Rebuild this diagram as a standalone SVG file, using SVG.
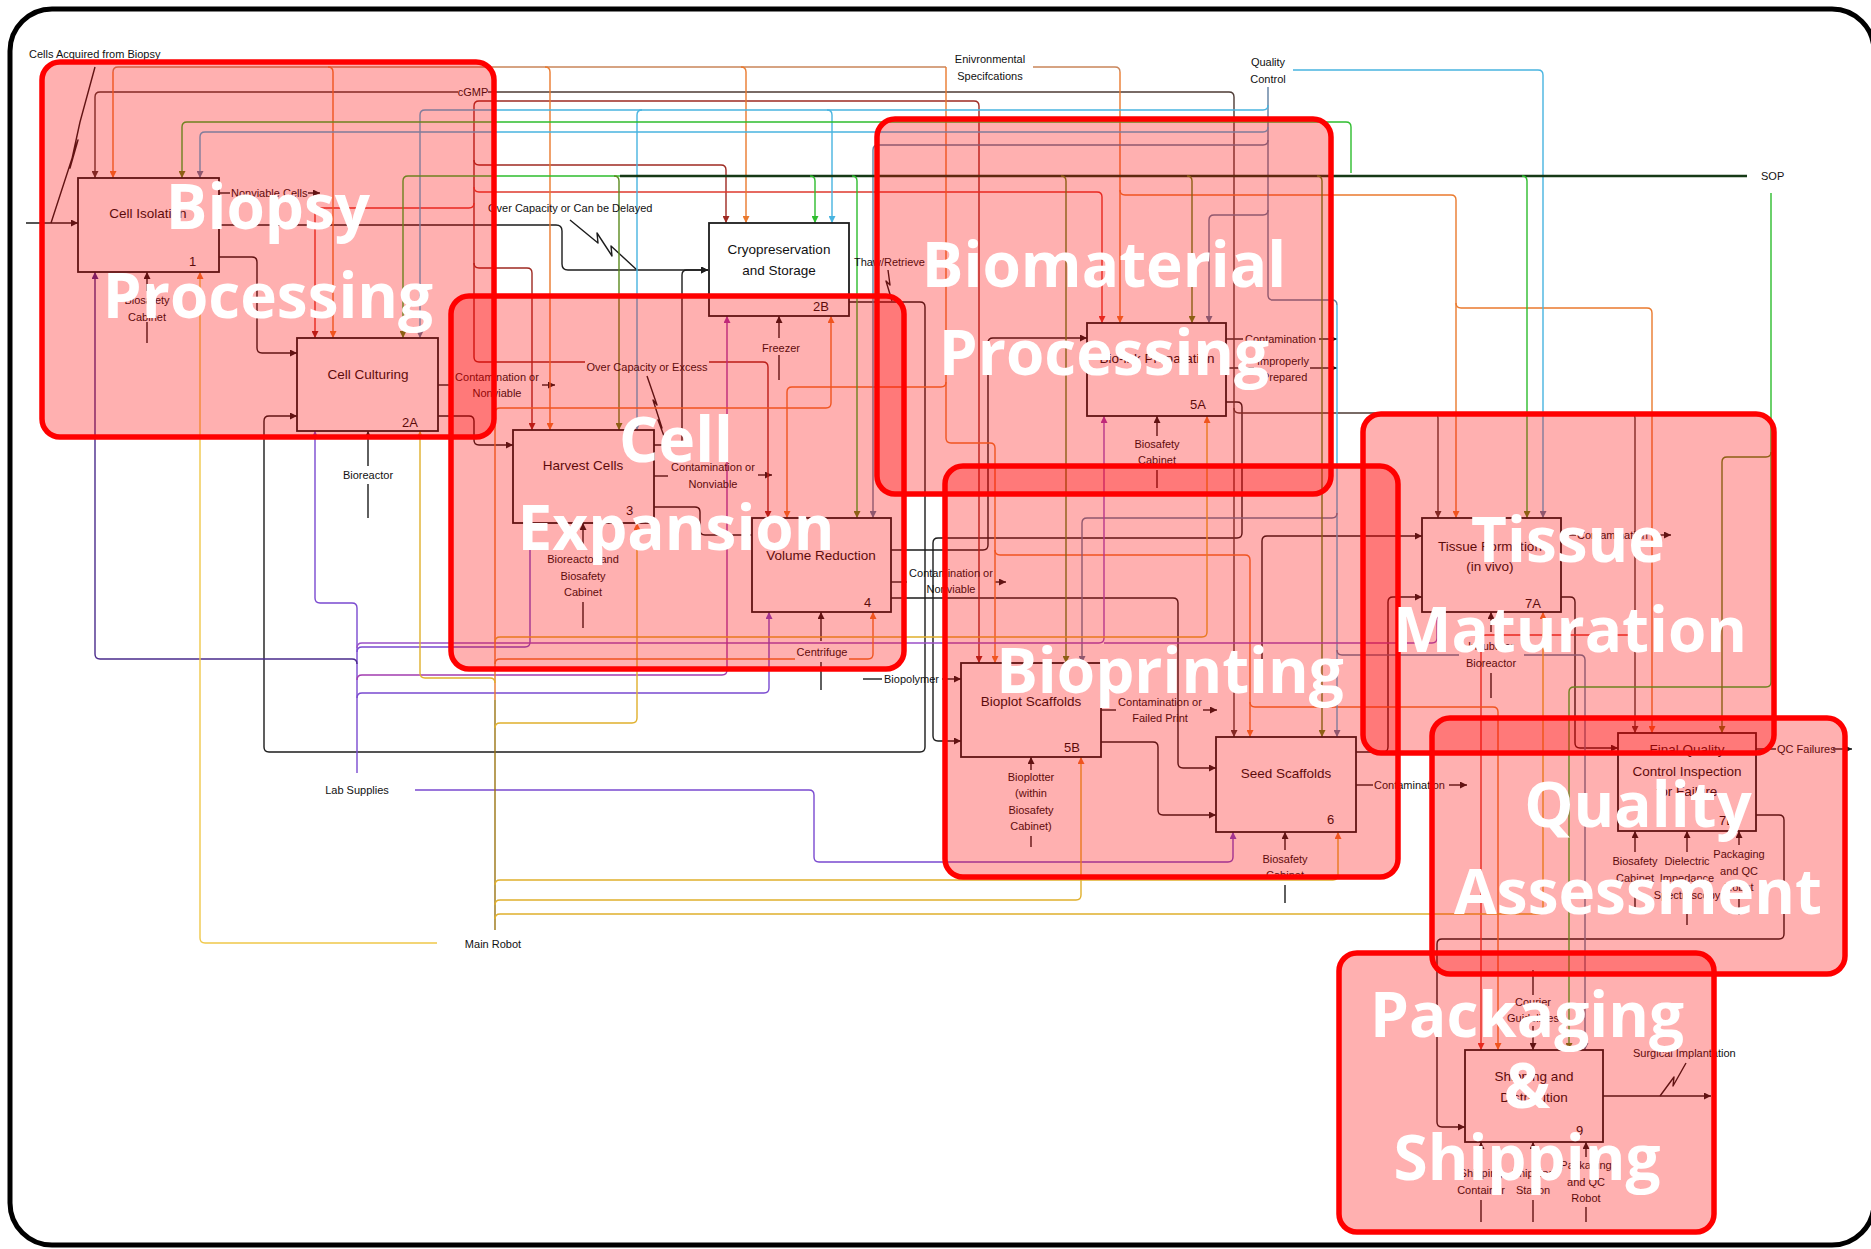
<svg xmlns="http://www.w3.org/2000/svg" width="1871" height="1249" viewBox="0 0 1871 1249">
  <defs>
    <style>
      .c{fill:none;stroke-width:1.4;stroke-linejoin:round}
      .k{stroke:#1c1c1c}.cg{stroke:#4d3b35}.dr{stroke:#9e2a22}.r{stroke:#de3a2e}
      .eb{stroke:#c9855a}.o{stroke:#ea7a2e}.lb{stroke:#48b4e0}.sl{stroke:#5f7fa0}
      .gr{stroke:#2ebd2e}.ol{stroke:#5b8a1e}.sop{stroke:#163a16;stroke-width:2.6}
      .pu{stroke:#7a4ad0}.in{stroke:#4a2b8c}.mg{stroke:#a23cb0}.vi{stroke:#9a50c8}
      .gd{stroke:#e0b02c}.dg{stroke:#9a7412}.yl{stroke:#f0c84a}
      .box{fill:#ffffff;stroke:#1c1c1c;stroke-width:1.8}
      .bt{font-family:"Liberation Sans",Arial,sans-serif;font-size:13.5px;fill:#111;text-anchor:middle}
      .nm{font-family:"Liberation Sans",Arial,sans-serif;font-size:13px;fill:#111}
      .t{font-family:"Liberation Sans",Arial,sans-serif;font-size:11px;fill:#111}
      .m{text-anchor:middle}
      .zone{fill:#ff0000;fill-opacity:0.31;stroke:#ff0000;stroke-width:5.5}
      .zt{font-family:"Open Sans","Noto Sans",sans-serif;font-weight:700;font-size:62px;fill:#ffffff;text-anchor:middle}
    </style>
    <marker id="m-k" viewBox="0 0 8 8" refX="8" refY="4" markerWidth="8" markerHeight="7" markerUnits="userSpaceOnUse" orient="auto"><path d="M0,0L8,4L0,8z" fill="#1c1c1c"/></marker>
    <marker id="m-cg" viewBox="0 0 8 8" refX="8" refY="4" markerWidth="8" markerHeight="7" markerUnits="userSpaceOnUse" orient="auto"><path d="M0,0L8,4L0,8z" fill="#4d3b35"/></marker>
    <marker id="m-dr" viewBox="0 0 8 8" refX="8" refY="4" markerWidth="8" markerHeight="7" markerUnits="userSpaceOnUse" orient="auto"><path d="M0,0L8,4L0,8z" fill="#9e2a22"/></marker>
    <marker id="m-r" viewBox="0 0 8 8" refX="8" refY="4" markerWidth="8" markerHeight="7" markerUnits="userSpaceOnUse" orient="auto"><path d="M0,0L8,4L0,8z" fill="#de3a2e"/></marker>
    <marker id="m-o" viewBox="0 0 8 8" refX="8" refY="4" markerWidth="8" markerHeight="7" markerUnits="userSpaceOnUse" orient="auto"><path d="M0,0L8,4L0,8z" fill="#ea7a2e"/></marker>
    <marker id="m-lb" viewBox="0 0 8 8" refX="8" refY="4" markerWidth="8" markerHeight="7" markerUnits="userSpaceOnUse" orient="auto"><path d="M0,0L8,4L0,8z" fill="#48b4e0"/></marker>
    <marker id="m-sl" viewBox="0 0 8 8" refX="8" refY="4" markerWidth="8" markerHeight="7" markerUnits="userSpaceOnUse" orient="auto"><path d="M0,0L8,4L0,8z" fill="#5f7fa0"/></marker>
    <marker id="m-gr" viewBox="0 0 8 8" refX="8" refY="4" markerWidth="8" markerHeight="7" markerUnits="userSpaceOnUse" orient="auto"><path d="M0,0L8,4L0,8z" fill="#2ebd2e"/></marker>
    <marker id="m-ol" viewBox="0 0 8 8" refX="8" refY="4" markerWidth="8" markerHeight="7" markerUnits="userSpaceOnUse" orient="auto"><path d="M0,0L8,4L0,8z" fill="#5b8a1e"/></marker>
    <marker id="m-pu" viewBox="0 0 8 8" refX="8" refY="4" markerWidth="8" markerHeight="7" markerUnits="userSpaceOnUse" orient="auto"><path d="M0,0L8,4L0,8z" fill="#7a4ad0"/></marker>
    <marker id="m-in" viewBox="0 0 8 8" refX="8" refY="4" markerWidth="8" markerHeight="7" markerUnits="userSpaceOnUse" orient="auto"><path d="M0,0L8,4L0,8z" fill="#4a2b8c"/></marker>
    <marker id="m-mg" viewBox="0 0 8 8" refX="8" refY="4" markerWidth="8" markerHeight="7" markerUnits="userSpaceOnUse" orient="auto"><path d="M0,0L8,4L0,8z" fill="#a23cb0"/></marker>
    <marker id="m-gd" viewBox="0 0 8 8" refX="8" refY="4" markerWidth="8" markerHeight="7" markerUnits="userSpaceOnUse" orient="auto"><path d="M0,0L8,4L0,8z" fill="#d9a22a"/></marker>
  </defs>

  <rect x="0" y="0" width="1871" height="1249" fill="#ffffff"/>
  <rect id="frame" x="10" y="9" width="1864" height="1236" rx="42" fill="none" stroke="#000" stroke-width="5"/>

  <g id="connectors">
    <!-- process inputs and outputs -->
    <path class="c k" d="M26,223 H78" marker-end="url(#m-k)"/>
    <path class="c k" d="M95,67 L80,122 L70,168 L78,140 L51,223"/>
    <path class="c k" d="M219,225 H556 Q562,225 562,231 V264 Q562,270 568,270 H708" marker-end="url(#m-k)"/>
    <path class="c k" d="M570,220 L598,243 L597,233 L612,256 L611,246 L637,270"/>
    <path class="c k" d="M219,257 H252 Q257,257 257,262 V348 Q257,353 262,353 H297" marker-end="url(#m-k)"/>
    <path class="c k" d="M219,193 H230"/><path class="c k" d="M308,193 H320" marker-end="url(#m-k)"/>
    <path class="c k" d="M438,416 H469 Q474,416 474,421 V440 Q474,445 479,445 H513" marker-end="url(#m-k)"/>
    <path class="c k" d="M438,385 H452"/><path class="c k" d="M542,385 H555" marker-end="url(#m-k)"/>
    <path class="c k" d="M654,445 H677 Q682,445 682,440 V275 Q682,270 687,270 H708" marker-end="url(#m-k)"/>
    <path class="c k" d="M647,376 L657,405 L653,400 L662,428 L658,420 L667,444"/>
    <path class="c k" d="M654,507 H695 Q700,507 700,512 V530 Q700,535 705,535 H752" marker-end="url(#m-k)"/>
    <path class="c k" d="M654,476 H668"/><path class="c k" d="M758,475 H772" marker-end="url(#m-k)"/>
    <path class="c k" d="M849,302 H920 Q925,302 925,307 V747 Q925,752 920,752 H269 Q264,752 264,747 V421 Q264,416 269,416 H297" marker-end="url(#m-k)"/>
    <path class="c k" d="M888,270 L890,285 L886,281 L892,301"/>
    <path class="c k" d="M891,550 H983 Q988,550 988,545 V343 Q988,338 993,338 H1087" marker-end="url(#m-k)"/>
    <path class="c k" d="M891,598 H1173 Q1178,598 1178,603 V763 Q1178,768 1183,768 H1216" marker-end="url(#m-k)"/>
    <path class="c k" d="M891,582 H907"/><path class="c k" d="M995,582 H1006" marker-end="url(#m-k)"/>
    <path class="c k" d="M1226,402 H1237 Q1242,402 1242,407 V533 Q1242,538 1237,538 H938 Q933,538 933,543 V736 Q933,741 938,741 H961" marker-end="url(#m-k)"/>
    <path class="c k" d="M1226,339 H1243"/><path class="c k" d="M1319,339 H1337" marker-end="url(#m-k)"/>
    <path class="c k" d="M1226,368 H1254"/><path class="c k" d="M1310,368 H1337" marker-end="url(#m-k)"/>
    <path class="c k" d="M863,679 H882"/><path class="c k" d="M942,679 H961" marker-end="url(#m-k)"/>
    <path class="c k" d="M1101,742 H1153 Q1158,742 1158,747 V810 Q1158,815 1163,815 H1216" marker-end="url(#m-k)"/>
    <path class="c k" d="M1101,710 H1116"/><path class="c k" d="M1203,710 H1217" marker-end="url(#m-k)"/>
    <path class="c k" d="M1356,752 H1383 Q1388,752 1388,747 V602 Q1388,597 1393,597 H1422" marker-end="url(#m-k)"/>
    <path class="c k" d="M1356,785 H1373"/><path class="c k" d="M1449,785 H1467" marker-end="url(#m-k)"/>
    <path class="c k" d="M1262,690 V541 Q1262,536 1267,536 H1422" marker-end="url(#m-k)"/>
    <path class="c k" d="M1561,535 H1576"/><path class="c k" d="M1651,535 H1671" marker-end="url(#m-k)"/>
    <path class="c k" d="M1561,597 H1570 Q1575,597 1575,602 V743 Q1575,748 1580,748 H1618" marker-end="url(#m-k)"/>
    <path class="c k" d="M1756,749 H1776"/><path class="c k" d="M1833,749 H1852" marker-end="url(#m-k)"/>
    <path class="c k" d="M1756,815 H1779 Q1784,815 1784,820 V934 Q1784,939 1779,939 H1442 Q1437,939 1437,944 V1122 Q1437,1127 1442,1127 H1465" marker-end="url(#m-k)"/>
    <path class="c k" d="M1603,1096 H1711" marker-end="url(#m-k)"/>
    <path class="c k" d="M1686,1063 L1673,1086 L1674,1077 L1660,1096"/>

    <!-- mechanisms -->
    <path class="c k" d="M147,343 V322"/><path class="c k" d="M147,291 V272" marker-end="url(#m-k)"/>
    <path class="c k" d="M368,518 V484"/><path class="c k" d="M368,466 V431" marker-end="url(#m-k)"/>
    <path class="c k" d="M779,380 V355"/><path class="c k" d="M779,338 V316" marker-end="url(#m-k)"/>
    <path class="c k" d="M583,628 V602"/><path class="c k" d="M583,548 V523" marker-end="url(#m-k)"/>
    <path class="c k" d="M821,690 V662"/><path class="c k" d="M821,641 V612" marker-end="url(#m-k)"/>
    <path class="c k" d="M1157,488 V470"/><path class="c k" d="M1157,436 V416" marker-end="url(#m-k)"/>
    <path class="c k" d="M1031,847 V836"/><path class="c k" d="M1031,770 V757" marker-end="url(#m-k)"/>
    <path class="c k" d="M1285,903 V885"/><path class="c k" d="M1285,850 V832" marker-end="url(#m-k)"/>
    <path class="c k" d="M1491,698 V673"/><path class="c k" d="M1491,632 V612" marker-end="url(#m-k)"/>
    <path class="c k" d="M1635,910 V888"/><path class="c k" d="M1635,852 V831" marker-end="url(#m-k)"/>
    <path class="c k" d="M1687,925 V905"/><path class="c k" d="M1687,852 V831" marker-end="url(#m-k)"/>
    <path class="c k" d="M1739,915 V897"/><path class="c k" d="M1739,845 V831" marker-end="url(#m-k)"/>
    <path class="c k" d="M1481,1222 V1200"/><path class="c k" d="M1481,1162 V1142" marker-end="url(#m-k)"/>
    <path class="c k" d="M1533,1222 V1200"/><path class="c k" d="M1533,1162 V1142" marker-end="url(#m-k)"/>
    <path class="c k" d="M1586,1222 V1207"/><path class="c k" d="M1586,1157 V1142" marker-end="url(#m-k)"/>
    <path class="c k" d="M1533,970 V995"/><path class="c k" d="M1533,1026 V1050" marker-end="url(#m-k)"/>

    <!-- cGMP -->
    <path class="c cg" d="M458,92 H100 Q95,92 95,97 V178" marker-end="url(#m-cg)"/>
    <path class="c cg" d="M488,92 H1229 Q1234,92 1234,97 V737" marker-end="url(#m-cg)"/>
    <path class="c cg" d="M1234,408 Q1234,413 1239,413 H1630 Q1635,413 1635,418 V733" marker-end="url(#m-cg)"/>
    <path class="c cg" d="M1433,413 Q1438,413 1438,418 V518" marker-end="url(#m-cg)"/>
    <path class="c r" d="M1635,635 H1486 Q1481,635 1481,640 V1050" marker-end="url(#m-r)"/>

    <!-- rework feedback -->
    <path class="c dr" d="M585,362 H479 Q474,362 474,357 V106 Q474,101 479,101 H974 Q979,101 979,106 V663" marker-end="url(#m-dr)"/>
    <path class="c dr" d="M709,362 H763 Q768,362 768,367 V518" marker-end="url(#m-dr)"/>
    <path class="c dr" d="M474,160 Q474,165 479,165 H721 Q726,165 726,170 V223" marker-end="url(#m-dr)"/>
    <path class="c r" d="M474,187 Q474,192 479,192 H1097 Q1102,192 1102,197 V323" marker-end="url(#m-r)"/>
    <path class="c r" d="M474,203 Q474,208 469,208 H320 Q315,208 315,213 V338" marker-end="url(#m-dr)"/>
    <path class="c dr" d="M474,263 Q474,268 479,268 H527 Q532,268 532,273 V430" marker-end="url(#m-dr)"/>

    <!-- environmental specifications -->
    <path class="c eb" d="M946,67 H118 Q113,67 113,72"/>
    <path class="c eb" d="M1033,67 H1115 Q1120,67 1120,72"/>
    <path class="c o" d="M113,72 V178" marker-end="url(#m-o)"/>
    <path class="c o" d="M328,67 Q333,67 333,72 V338" marker-end="url(#m-o)"/>
    <path class="c o" d="M545,67 Q550,67 550,72 V430" marker-end="url(#m-o)"/>
    <path class="c o" d="M741,67 Q746,67 746,72 V223" marker-end="url(#m-o)"/>
    <path class="c o" d="M1120,72 V323" marker-end="url(#m-o)"/>
    <path class="c o" d="M1120,190 Q1120,195 1125,195 H1451 Q1456,195 1456,200 V518" marker-end="url(#m-o)"/>
    <path class="c o" d="M1456,303 Q1456,308 1461,308 H1647 Q1652,308 1652,313 V733" marker-end="url(#m-o)"/>
    <path class="c o" d="M946,67 V438 Q946,443 951,443 H990 Q995,443 995,448 V663" marker-end="url(#m-o)"/>
    <path class="c o" d="M946,382 Q946,387 941,387 H792 Q787,387 787,392 V518" marker-end="url(#m-o)"/>
    <path class="c o" d="M995,550 Q995,555 1000,555 H1245 Q1250,555 1250,560 V737" marker-end="url(#m-o)"/>
    <path class="c o" d="M1250,702 Q1250,707 1255,707 H1493 Q1498,707 1498,712 V1050" marker-end="url(#m-o)"/>

    <!-- quality control -->
    <path class="c sl" d="M1268,87 V295 Q1268,300 1273,300 H1332 Q1337,300 1337,305"/>
    <path class="c lb" d="M1337,305 V737" marker-end="url(#m-sl)"/>
    <path class="c lb" d="M1268,105 Q1268,110 1263,110 H425 Q420,110 420,115 V338" marker-end="url(#m-sl)"/>
    <path class="c lb" d="M642,110 Q637,110 637,115 V430" marker-end="url(#m-lb)"/>
    <path class="c lb" d="M827,110 Q832,110 832,115 V223" marker-end="url(#m-lb)"/>
    <path class="c lb" d="M1268,127 Q1268,132 1263,132 H205 Q200,132 200,137 V178" marker-end="url(#m-sl)"/>
    <path class="c sl" d="M1268,140 Q1268,145 1263,145 H878 Q873,145 873,150 V518" marker-end="url(#m-sl)"/>
    <path class="c sl" d="M1268,210 Q1268,215 1263,215 H1214 Q1209,215 1209,220 V323" marker-end="url(#m-sl)"/>
    <path class="c lb" d="M1293,70 H1538 Q1543,70 1543,75 V518" marker-end="url(#m-sl)"/>
    <path class="c sl" d="M1337,513 Q1337,518 1332,518 H1087 Q1082,518 1082,523 V663" marker-end="url(#m-sl)"/>
    <path class="c sl" d="M1337,650 Q1337,655 1342,655 H1459"/>
    <path class="c sl" d="M1524,655 H1580 Q1585,655 1585,660 V1050" marker-end="url(#m-sl)"/>

    <!-- standard operating procedures -->
    <path class="c sop" d="M1747,176 H620"/>
    <path class="c gr" d="M620,176 H408 Q403,176 403,181 V338" marker-end="url(#m-ol)"/>
    <path class="c gr" d="M1351,173 V127 Q1351,122 1346,122 H187 Q182,122 182,127 V178" marker-end="url(#m-ol)"/>
    <path class="c ol" d="M614,176 Q619,176 619,181 V430" marker-end="url(#m-ol)"/>
    <path class="c gr" d="M810,176 Q815,176 815,181 V223" marker-end="url(#m-gr)"/>
    <path class="c gr" d="M852,176 Q857,176 857,181 V518" marker-end="url(#m-ol)"/>
    <path class="c ol" d="M1061,176 Q1066,176 1066,181 V663" marker-end="url(#m-ol)"/>
    <path class="c ol" d="M1187,176 Q1192,176 1192,181 V323" marker-end="url(#m-ol)"/>
    <path class="c ol" d="M1317,176 Q1322,176 1322,181 V737" marker-end="url(#m-ol)"/>
    <path class="c gr" d="M1522,176 Q1527,176 1527,181 V518" marker-end="url(#m-ol)"/>
    <path class="c gr" d="M1771,193 V682 Q1771,687 1766,687 H1574 Q1569,687 1569,692 V1050" marker-end="url(#m-ol)"/>
    <path class="c ol" d="M1771,452 Q1771,457 1766,457 H1727 Q1722,457 1722,462 V733" marker-end="url(#m-ol)"/>

    <!-- lab supplies -->
    <path class="c pu" d="M357,773 V608 Q357,603 352,603 H320 Q315,603 315,598 V431" marker-end="url(#m-pu)"/>
    <path class="c pu" d="M357,652 Q357,647 362,647 H525 Q530,647 530,642 V523" marker-end="url(#m-pu)"/>
    <path class="c vi" d="M357,648 Q357,643 362,643 H1099 Q1104,643 1104,638 V416" marker-end="url(#m-mg)"/>
    <path class="c vi" d="M1104,643 H1432 Q1437,643 1437,638 V612" marker-end="url(#m-mg)"/>
    <path class="c in" d="M357,664 Q357,659 352,659 H100 Q95,659 95,654 V272" marker-end="url(#m-in)"/>
    <path class="c mg" d="M357,680 Q357,675 362,675 H722 Q727,675 727,670 V316" marker-end="url(#m-mg)"/>
    <path class="c pu" d="M357,698 Q357,693 362,693 H764 Q769,693 769,688 V612" marker-end="url(#m-pu)"/>
    <path class="c pu" d="M415,790 H809 Q814,790 814,795 V857 Q814,862 819,862 H1228 Q1233,862 1233,857 V832" marker-end="url(#m-pu)" stroke-width="2"/>

    <!-- main robot -->
    <path class="c dg" d="M495,930 V700" stroke-width="2"/>
    <path class="c o" d="M495,700 V413 Q495,408 500,408 H826 Q831,408 831,403 V316" marker-end="url(#m-o)"/>
    <path class="c gd" d="M495,683 Q495,678 490,678 H425 Q420,678 420,673 V431" marker-end="url(#m-gd)"/>
    <path class="c gd" d="M495,728 Q495,723 500,723 H632 Q637,723 637,718 V523" marker-end="url(#m-o)"/>
    <path class="c o" d="M495,664 Q495,659 500,659 H795"/>
    <path class="c o" d="M849,659 H868 Q873,659 873,654 V612" marker-end="url(#m-o)"/>
    <path class="c gd" d="M495,642 Q495,637 500,637 H1202 Q1207,637 1207,632 V416" marker-end="url(#m-o)"/>
    <path class="c gd" d="M495,885 Q495,880 500,880 H1333 Q1338,880 1338,875 V832" marker-end="url(#m-o)"/>
    <path class="c gd" d="M495,905 Q495,900 500,900 H1076 Q1081,900 1081,895 V757" marker-end="url(#m-o)"/>
    <path class="c gd" d="M495,919 Q495,914 500,914 H1538 Q1543,914 1543,909 V612" marker-end="url(#m-o)" stroke-width="2"/>
    <path class="c yl" d="M437,943 H205 Q200,943 200,938 V272" marker-end="url(#m-o)"/>
  </g>

  <g id="cell-isolation">
    <rect class="box" x="78" y="178" width="141" height="94"/>
    <text class="bt" x="148" y="218">Cell Isolation</text>
    <text class="nm" x="189" y="266">1</text>
  </g>
  <g id="cell-culturing">
    <rect class="box" x="297" y="338" width="141" height="93"/>
    <text class="bt" x="368" y="379">Cell Culturing</text>
    <text class="nm" x="402" y="427">2A</text>
  </g>
  <g id="cryopreservation">
    <rect class="box" x="709" y="223" width="140" height="93"/>
    <text class="bt" x="779" y="254">Cryopreservation</text>
    <text class="bt" x="779" y="275">and Storage</text>
    <text class="nm" x="813" y="311">2B</text>
  </g>
  <g id="harvest-cells">
    <rect class="box" x="513" y="430" width="141" height="93"/>
    <text class="bt" x="583" y="470">Harvest Cells</text>
    <text class="nm" x="626" y="515">3</text>
  </g>
  <g id="volume-reduction">
    <rect class="box" x="752" y="518" width="139" height="94"/>
    <text class="bt" x="821" y="560">Volume Reduction</text>
    <text class="nm" x="864" y="607">4</text>
  </g>
  <g id="bio-ink-preparation">
    <rect class="box" x="1087" y="323" width="139" height="93"/>
    <text class="bt" x="1157" y="363">Bio-ink Preparation</text>
    <text class="nm" x="1190" y="409">5A</text>
  </g>
  <g id="bioplot-scaffolds">
    <rect class="box" x="961" y="663" width="140" height="94"/>
    <text class="bt" x="1031" y="706">Bioplot Scaffolds</text>
    <text class="nm" x="1064" y="752">5B</text>
  </g>
  <g id="seed-scaffolds">
    <rect class="box" x="1216" y="737" width="140" height="95"/>
    <text class="bt" x="1286" y="778">Seed Scaffolds</text>
    <text class="nm" x="1327" y="824">6</text>
  </g>
  <g id="tissue-formation">
    <rect class="box" x="1422" y="518" width="139" height="94"/>
    <text class="bt" x="1490" y="551">Tissue Formation</text>
    <text class="bt" x="1490" y="571">(in vivo)</text>
    <text class="nm" x="1525" y="608">7A</text>
  </g>
  <g id="final-quality-control">
    <rect class="box" x="1618" y="733" width="138" height="98"/>
    <text class="bt" x="1687" y="754">Final Quality</text>
    <text class="bt" x="1687" y="776">Control Inspection</text>
    <text class="bt" x="1687" y="796">for Failure</text>
    <text class="nm" x="1719" y="825">7B</text>
  </g>
  <g id="shipping-distribution">
    <rect class="box" x="1465" y="1050" width="138" height="92"/>
    <text class="bt" x="1534" y="1081">Shipping and</text>
    <text class="bt" x="1534" y="1102">Distribution</text>
    <text class="nm" x="1576" y="1135">9</text>
  </g>

  <g id="arrow-labels">
    <text class="t" x="29" y="58">Cells Acquired from Biopsy</text>
    <text class="t m" x="473" y="96" font-size="12">cGMP</text>
    <text class="t m" x="990" y="63">Enivronmental</text>
    <text class="t m" x="990" y="80">Specifcations</text>
    <text class="t m" x="1268" y="66">Quality</text>
    <text class="t m" x="1268" y="83">Control</text>
    <text class="t" x="1761" y="180">SOP</text>
    <text class="t" x="231" y="197">Nonviable Cells</text>
    <text class="t" x="488" y="212">Over Capacity or Can be Delayed</text>
    <text class="t" x="854" y="266">Thaw/Retrieve</text>
    <text class="t m" x="781" y="352">Freezer</text>
    <text class="t m" x="497" y="381">Contamination or</text>
    <text class="t m" x="497" y="397">Nonviable</text>
    <text class="t m" x="647" y="371">Over Capacity or Excess</text>
    <text class="t m" x="368" y="479">Bioreactor</text>
    <text class="t m" x="147" y="304">Biosafety</text>
    <text class="t m" x="147" y="321">Cabinet</text>
    <text class="t m" x="713" y="471">Contamination or</text>
    <text class="t m" x="713" y="488">Nonviable</text>
    <text class="t m" x="583" y="563">Bioreactor and</text>
    <text class="t m" x="583" y="580">Biosafety</text>
    <text class="t m" x="583" y="596">Cabinet</text>
    <text class="t m" x="951" y="577">Contamination or</text>
    <text class="t m" x="951" y="593">Nonviable</text>
    <text class="t m" x="822" y="656">Centrifuge</text>
    <text class="t" x="884" y="683">Biopolymer</text>
    <text class="t" x="1245" y="343">Contamination</text>
    <text class="t" x="1257" y="365">Improperly</text>
    <text class="t" x="1262" y="381">Prepared</text>
    <text class="t m" x="1157" y="448">Biosafety</text>
    <text class="t m" x="1157" y="464">Cabinet</text>
    <text class="t m" x="1160" y="706">Contamination or</text>
    <text class="t m" x="1160" y="722">Failed Print</text>
    <text class="t m" x="1031" y="781">Bioplotter</text>
    <text class="t m" x="1031" y="797">(within</text>
    <text class="t m" x="1031" y="814">Biosafety</text>
    <text class="t m" x="1031" y="830">Cabinet)</text>
    <text class="t" x="1374" y="789">Contamination</text>
    <text class="t m" x="1285" y="863">Biosafety</text>
    <text class="t m" x="1285" y="879">Cabinet</text>
    <text class="t" x="1577" y="539">Contamination</text>
    <text class="t m" x="1491" y="650">Incubator</text>
    <text class="t m" x="1491" y="667">Bioreactor</text>
    <text class="t" x="1777" y="753">QC Failures</text>
    <text class="t m" x="1635" y="865">Biosafety</text>
    <text class="t m" x="1635" y="882">Cabinet</text>
    <text class="t m" x="1687" y="865">Dielectric</text>
    <text class="t m" x="1687" y="882">Impedance</text>
    <text class="t m" x="1687" y="899">Spectroscopy</text>
    <text class="t m" x="1739" y="858">Packaging</text>
    <text class="t m" x="1739" y="875">and QC</text>
    <text class="t m" x="1739" y="891">Robot</text>
    <text class="t m" x="1533" y="1006">Courier</text>
    <text class="t m" x="1533" y="1022">Guidelines</text>
    <text class="t" x="1633" y="1057">Surgical Implantation</text>
    <text class="t m" x="1481" y="1177">Shipping</text>
    <text class="t m" x="1481" y="1194">Container</text>
    <text class="t m" x="1533" y="1177">Shipping</text>
    <text class="t m" x="1533" y="1194">Station</text>
    <text class="t m" x="1586" y="1169">Packaging</text>
    <text class="t m" x="1586" y="1186">and QC</text>
    <text class="t m" x="1586" y="1202">Robot</text>
    <text class="t m" x="357" y="794">Lab Supplies</text>
    <text class="t m" x="493" y="948">Main Robot</text>
  </g>

  <g id="phases">
    <rect class="zone" x="42" y="62" width="452" height="375" rx="18"/>
    <rect class="zone" x="451" y="296" width="453" height="373" rx="18"/>
    <rect class="zone" x="877" y="119" width="454" height="375" rx="18"/>
    <rect class="zone" x="945" y="466" width="453" height="411" rx="18"/>
    <rect class="zone" x="1363" y="414" width="411" height="339" rx="18"/>
    <rect class="zone" x="1432" y="718" width="413" height="256" rx="18"/>
    <rect class="zone" x="1339" y="953" width="375" height="279" rx="18"/>
  </g>

  <g id="phase-titles">
    <text class="zt" x="268" y="229">Biopsy</text>
    <text class="zt" x="268" y="318">Processing</text>
    <text class="zt" x="676" y="462">Cell</text>
    <text class="zt" x="676" y="550">Expansion</text>
    <text class="zt" x="1104" y="287">Biomaterial</text>
    <text class="zt" x="1104" y="375">Processing</text>
    <text class="zt" x="1170" y="693">Bioprinting</text>
    <text class="zt" x="1568" y="562">Tissue</text>
    <text class="zt" x="1570" y="652">Maturation</text>
    <text class="zt" x="1638" y="827">Quality</text>
    <text class="zt" x="1638" y="914">Assessment</text>
    <text class="zt" x="1527" y="1037">Packaging</text>
    <text class="zt" x="1527" y="1108">&amp;</text>
    <text class="zt" x="1527" y="1180">Shipping</text>
  </g>
</svg>
